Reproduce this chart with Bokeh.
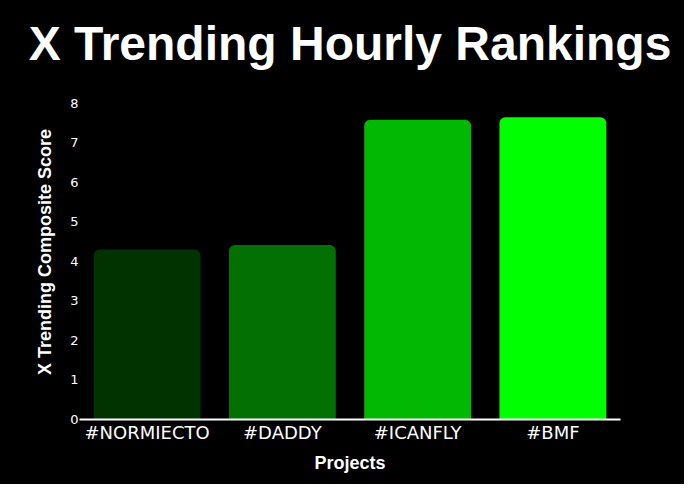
from bokeh.plotting import figure
from bokeh.models import ColumnDataSource, Range1d, FactorRange, FixedTicker
from bokeh.embed import file_html
from bokeh.resources import INLINE

title_text = "X Trending Hourly Rankings"
projects = ["#NORMIECTO", "#DADDY", "#ICANFLY", "#BMF"]
scores = [4.30, 4.41, 7.58, 7.64]
bar_colors = ["#013301", "#037003", "#02b802", "#00ff00"]
y_ticks = [0, 1, 2, 3, 4, 5, 6, 7, 8]

src = ColumnDataSource(dict(project=projects, score=scores, color=bar_colors))

p = figure(
    width=684, height=484,
    x_range=FactorRange(*projects, range_padding=0),
    y_range=Range1d(0, 8.468),
    output_backend="svg", toolbar_location=None,
    min_border_left=79, min_border_right=64, min_border_top=84, min_border_bottom=65,
    title=title_text,
)
p.vbar(x="project", top="score", width=0.79, source=src, fill_color="color",
       line_color=None, border_radius=(6, 6, 0, 0))

p.styles = {"background-color": "black"}
p.background_fill_color = "black"
p.border_fill_color = "black"
p.outline_line_color = None
p.xgrid.grid_line_color = None
p.ygrid.grid_line_color = None

p.title.text_color = "white"
p.title.text_font = "Liberation Sans"
p.title.text_font_style = "bold"
p.title.text_font_size = "48px"
p.title.align = "center"
p.title.standoff = 29

xa = p.xaxis[0]
xa.axis_line_color = "white"
xa.axis_line_width = 2
xa.major_tick_line_color = None
xa.minor_tick_line_color = None
xa.major_tick_out = 0
xa.major_tick_in = 0
xa.major_label_text_color = "white"
xa.major_label_text_font = "DejaVu Sans"
xa.major_label_text_font_size = "18px"
xa.major_label_standoff = 2
xa.axis_label = "Projects"
xa.axis_label_text_color = "white"
xa.axis_label_text_font = "Liberation Sans"
xa.axis_label_text_font_style = "bold"
xa.axis_label_text_font_size = "18px"
xa.axis_label_standoff = 7

ya = p.yaxis[0]
ya.ticker = FixedTicker(ticks=y_ticks)
ya.axis_line_color = None
ya.major_tick_line_color = None
ya.minor_tick_line_color = None
ya.major_tick_out = 0
ya.major_tick_in = 0
ya.major_label_text_color = "white"
ya.major_label_text_font = "DejaVu Sans"
ya.major_label_text_font_size = "13px"
ya.major_label_standoff = 1
ya.axis_label = "X Trending Composite Score"
ya.axis_label_text_color = "white"
ya.axis_label_text_font = "Liberation Sans"
ya.axis_label_text_font_style = "bold"
ya.axis_label_text_font_size = "18px"
ya.axis_label_standoff = 12

open("out.html", "w").write(file_html(p, INLINE))
